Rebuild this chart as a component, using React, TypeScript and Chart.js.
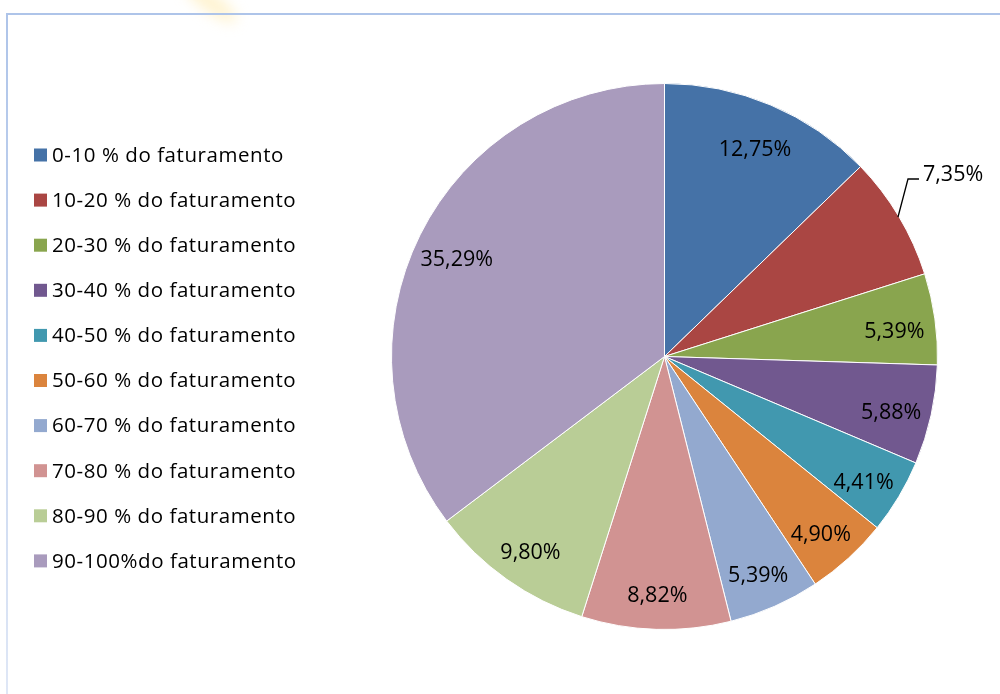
import React, { useEffect, useRef } from "react";
import { Chart, registerables } from "chart.js";

Chart.register(...registerables);

const categories = [
  "0-10 % do faturamento",
  "10-20 % do faturamento",
  "20-30 % do faturamento",
  "30-40 % do faturamento",
  "40-50 % do faturamento",
  "50-60 % do faturamento",
  "60-70 % do faturamento",
  "70-80 % do faturamento",
  "80-90 % do faturamento",
  "90-100%do faturamento",
];

const shares = [12.75, 7.35, 5.39, 5.88, 4.41, 4.9, 5.39, 8.82, 9.8, 35.29];

const sliceColors = [
  "#4572A7",
  "#AA4643",
  "#89A54E",
  "#71588F",
  "#4198AF",
  "#DB843D",
  "#93A9CF",
  "#D19392",
  "#B9CD96",
  "#A99BBD",
];

const outsideLabels = [1];

const fmt = (v: number) => v.toFixed(2).replace(".", ",") + "%";

const FONT = "'Open Sans', 'DejaVu Sans', sans-serif";

const framePlugin = {
  id: "frame",
  beforeDraw(chart: any) {
    const ctx = chart.ctx;
    ctx.save();
    ctx.fillStyle = "#ffffff";
    ctx.fillRect(0, 0, chart.width, chart.height);
    // faint glow at top
    ctx.filter = "blur(7px)";
    ctx.fillStyle = "rgba(255, 232, 160, 0.5)";
    ctx.beginPath();
    ctx.ellipse(210, 2, 32, 9, Math.PI / 5, 0, Math.PI * 2);
    ctx.fill();
    ctx.filter = "none";
    // frame lines
    ctx.fillStyle = "#aec4e9";
    ctx.fillRect(6, 13, chart.width - 6, 2);
    const g = ctx.createLinearGradient(0, 13, 0, chart.height);
    g.addColorStop(0, "#aec4e9");
    g.addColorStop(1, "#dfe7f6");
    ctx.fillStyle = g;
    ctx.fillRect(6, 13, 2, chart.height - 13);
    ctx.restore();
  },
};

const labelPlugin = {
  id: "sliceLabels",
  afterDatasetsDraw(chart: any) {
    const ctx = chart.ctx;
    const meta = chart.getDatasetMeta(0);
    const values = chart.data.datasets[0].data as number[];
    ctx.save();
    ctx.font = `21.5px ${FONT}`;
    ctx.fillStyle = "#000000";
    ctx.textBaseline = "middle";
    meta.data.forEach((arc: any, i: number) => {
      const { x, y, startAngle, endAngle, outerRadius } = arc.getProps(
        ["x", "y", "startAngle", "endAngle", "outerRadius"],
        true
      );
      const mid = (startAngle + endAngle) / 2;
      const text = fmt(values[i]);
      if (outsideLabels.includes(i)) {
        const sx = x + Math.cos(mid) * (outerRadius - 1);
        const sy = y + Math.sin(mid) * (outerRadius - 1);
        const ex = sx + 10;
        const ey = sy - 38;
        ctx.strokeStyle = "#000000";
        ctx.lineWidth = 1.3;
        ctx.beginPath();
        ctx.moveTo(sx, sy);
        ctx.lineTo(ex, ey);
        ctx.lineTo(ex + 11, ey);
        ctx.stroke();
        ctx.textAlign = "left";
        ctx.fillText(text, ex + 15, ey - 4);
      } else {
        const d = outerRadius * 0.85;
        ctx.textAlign = "center";
        ctx.fillText(text, x + Math.cos(mid) * d, y + Math.sin(mid) * d + 7);
      }
    });
    ctx.restore();
  },
};

const legendPlugin = {
  id: "sideLegend",
  afterDraw(chart: any) {
    const ctx = chart.ctx;
    const labels = chart.data.labels as string[];
    const colors = chart.data.datasets[0].backgroundColor as string[];
    ctx.save();
    ctx.font = `20.5px ${FONT}`;
    const w0 = ctx.measureText(labels[0]).width;
    const spacing = Math.max(0, (232 - w0) / labels[0].length);
    try {
      (ctx as any).letterSpacing = `${spacing.toFixed(2)}px`;
    } catch (e) {}
    ctx.textBaseline = "middle";
    ctx.textAlign = "left";
    labels.forEach((lab, i) => {
      const cy = 155 + i * 45.1;
      ctx.fillStyle = colors[i];
      ctx.fillRect(34, cy - 6.5, 13, 13);
      ctx.fillStyle = "#000000";
      ctx.fillText(lab, 52, cy + 1);
    });
    ctx.restore();
  },
};

export default function App() {
  const ref = useRef<HTMLCanvasElement | null>(null);
  useEffect(() => {
    if (!ref.current) return;
    const chart = new Chart(ref.current, {
      type: "pie",
      data: {
        labels: categories,
        datasets: [
          {
            data: shares,
            backgroundColor: sliceColors,
            borderColor: "#ffffff",
            borderWidth: 1,
          },
        ],
      },
      options: {
        responsive: false,
        animation: false,
        layout: { padding: { left: 391, right: 62, top: 83, bottom: 64 } },
        plugins: {
          legend: { display: false },
          tooltip: { enabled: false },
        },
      },
      plugins: [framePlugin, labelPlugin, legendPlugin],
    });
    return () => chart.destroy();
  }, []);
  return (
    <div style={{ position: "absolute", left: 0, top: 0, width: 1000, height: 694 }}>
      <canvas ref={ref} width={1000} height={694} />
    </div>
  );
}
